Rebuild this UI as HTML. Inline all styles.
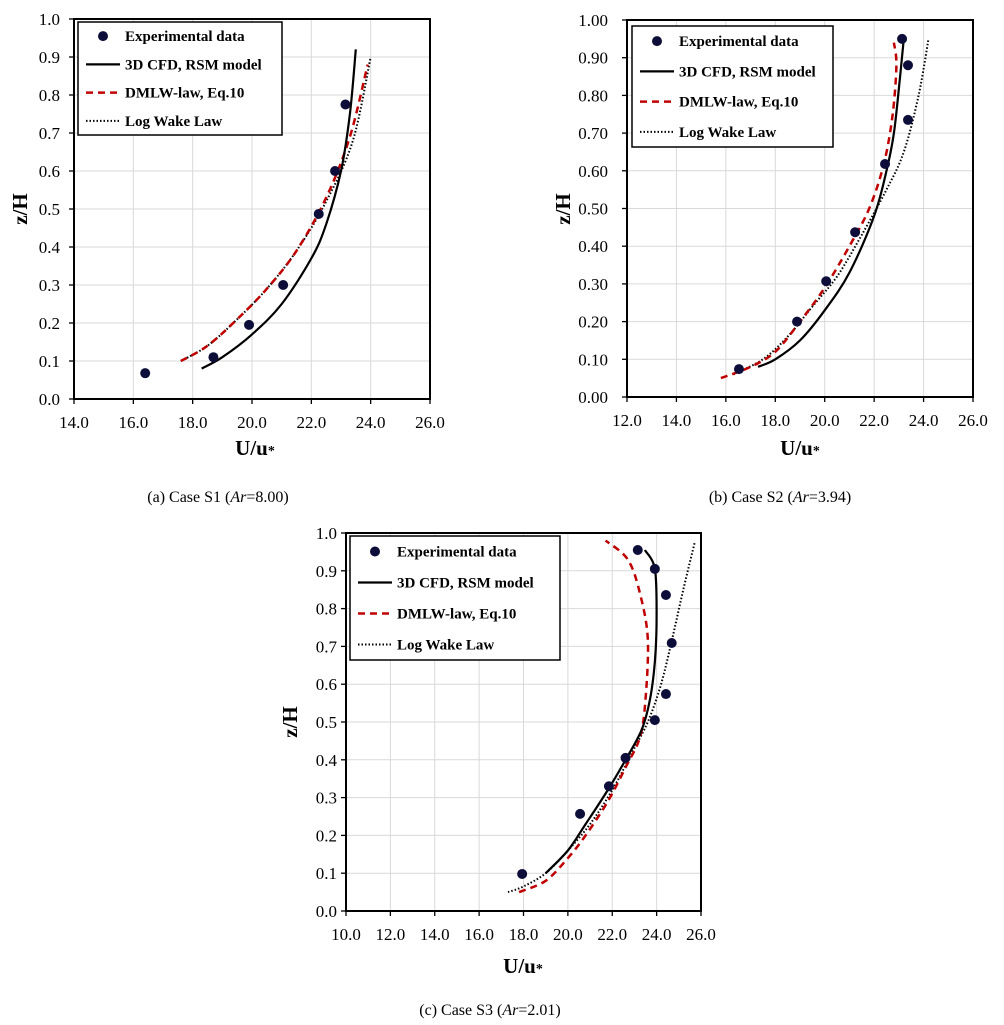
<!DOCTYPE html>
<html><head><meta charset="utf-8"><style>
body{margin:0;background:#fff;}
svg{display:block;font-family:"Liberation Serif",serif;}
</style></head><body>
<svg id="fig" width="1004" height="1025" viewBox="0 0 1004 1025" xmlns="http://www.w3.org/2000/svg"></svg>
<script>
// ---- Chart (a) Case S1 ----
const s1ExpU=[16.4,18.7,19.9,21.05,22.25,22.8,23.15];
const s1ExpZ=[0.068,0.11,0.195,0.30,0.487,0.60,0.775];
const s1CfdU=[18.3,19,20,21,22,22.5,23,23.3,23.5];
const s1CfdZ=[0.08,0.11,0.17,0.25,0.37,0.46,0.60,0.75,0.92];
const s1DmU=[17.6,18.5,19.5,20.5,21.5,22.5,23.3,23.9];
const s1DmZ=[0.10,0.14,0.21,0.29,0.39,0.53,0.69,0.88];
const s1LwU=[17.6,18.5,19.5,20.5,21.5,22.5,23.4,24.0];
const s1LwZ=[0.10,0.14,0.21,0.29,0.39,0.52,0.68,0.90];
const s1XTicks=["14.0","16.0","18.0","20.0","22.0","24.0","26.0"];
const s1YTicks=["0.0","0.1","0.2","0.3","0.4","0.5","0.6","0.7","0.8","0.9","1.0"];
// ---- Chart (b) Case S2 ----
const s2ExpU=[16.53,18.88,20.06,21.23,22.44,23.37,23.37,23.13];
const s2ExpZ=[0.074,0.20,0.307,0.437,0.618,0.735,0.88,0.95];
const s2CfdU=[17.3,18,19,20,21,22,22.5,22.8,23.05,23.2];
const s2CfdZ=[0.08,0.10,0.15,0.23,0.33,0.48,0.60,0.70,0.85,0.95];
const s2DmU=[15.8,17,18,19,20,21,21.8,22.4,22.75,22.9,22.8];
const s2DmZ=[0.05,0.08,0.12,0.20,0.29,0.40,0.50,0.62,0.75,0.88,0.94];
const s2LwU=[16.3,17.5,18.5,19.5,20.5,21.5,22.5,23.2,23.8,24.2];
const s2LwZ=[0.06,0.10,0.16,0.24,0.32,0.43,0.55,0.65,0.80,0.95];
const s2XTicks=["12.0","14.0","16.0","18.0","20.0","22.0","24.0","26.0"];
const s2YTicks=["0.00","0.10","0.20","0.30","0.40","0.50","0.60","0.70","0.80","0.90","1.00"];
// ---- Chart (c) Case S3 ----
const s3ExpU=[17.94,20.55,21.85,22.6,23.92,24.42,24.68,24.42,23.92,23.15];
const s3ExpZ=[0.098,0.257,0.33,0.405,0.505,0.574,0.709,0.836,0.905,0.955];
const s3CfdU=[19,20,20.8,21.8,22.6,23.33,23.7,23.92,24.0,23.92,23.47];
const s3CfdZ=[0.10,0.16,0.23,0.32,0.40,0.48,0.56,0.66,0.78,0.905,0.955];
const s3DmU=[17.8,19,20,20.8,21.8,22.6,23.25,23.5,23.6,23.25,22.7,21.7];
const s3DmZ=[0.05,0.08,0.14,0.20,0.29,0.38,0.46,0.56,0.72,0.84,0.93,0.98];
const s3LwU=[17.3,18,19,20,21,22,22.9,23.6,24.2,24.7,25.2,25.72];
const s3LwZ=[0.05,0.065,0.10,0.16,0.23,0.32,0.42,0.50,0.60,0.72,0.85,0.976];
const s3XTicks=["10.0","12.0","14.0","16.0","18.0","20.0","22.0","24.0","26.0"];
const s3YTicks=["0.0","0.1","0.2","0.3","0.4","0.5","0.6","0.7","0.8","0.9","1.0"];

const NS="http://www.w3.org/2000/svg";
const svg=document.getElementById('fig');
function mk(tag,attrs,parent,text){const e=document.createElementNS(NS,tag);for(const k in attrs)e.setAttribute(k,attrs[k]);if(text!==undefined)e.textContent=text;(parent||svg).appendChild(e);return e;}
function smooth(P){
  let d='M'+P[0][0].toFixed(1)+','+P[0][1].toFixed(1);
  for(let i=0;i<P.length-1;i++){
    const p0=P[Math.max(0,i-1)],p1=P[i],p2=P[i+1],p3=P[Math.min(P.length-1,i+2)];
    const c1=[p1[0]+(p2[0]-p0[0])/6,p1[1]+(p2[1]-p0[1])/6];
    const c2=[p2[0]-(p3[0]-p1[0])/6,p2[1]-(p3[1]-p1[1])/6];
    d+=' C'+c1[0].toFixed(1)+','+c1[1].toFixed(1)+' '+c2[0].toFixed(1)+','+c2[1].toFixed(1)+' '+p2[0].toFixed(1)+','+p2[1].toFixed(1);
  }
  return d;
}

function chart(id,cfg,xt,yt,eu,ez,cu,cz,du,dz,lu,lz){
  const g=mk('g',{});
  
  
  const xmin=parseFloat(xt[0]),xmax=parseFloat(xt[xt.length-1]);
  const X=v=>cfg.L+(v-xmin)/(xmax-xmin)*(cfg.R-cfg.L);
  const Y=v=>cfg.B-v*(cfg.B-cfg.T);
  xt.forEach((t,i)=>{const x=X(parseFloat(t));
    if(i>0&&i<xt.length-1){const l=mk('line',{x1:x,x2:x,y1:cfg.T,y2:cfg.B,stroke:'#d9d9d9','stroke-width':1},g);}
    const tk=mk('line',{x1:x,x2:x,y1:cfg.B,y2:cfg.B+5,stroke:'#000','stroke-width':1.3},g);
    const tx=mk('text',{x:x,y:cfg.B+29,'font-size':17,'text-anchor':'middle'},g,t);
  });
  yt.forEach((t,i)=>{const y=Y(parseFloat(t));
    if(i>0&&i<yt.length-1){const l=mk('line',{x1:cfg.L,x2:cfg.R,y1:y,y2:y,stroke:'#d9d9d9','stroke-width':1},g);}
    const tk=mk('line',{x1:cfg.L-5,x2:cfg.L,y1:y,y2:y,stroke:'#000','stroke-width':1.3},g);
    const tx=mk('text',{x:cfg.L-cfg.yoff,y:y+6,'font-size':17,'text-anchor':'end'},g,t);
  });
  const fr=mk('rect',{x:cfg.L,y:cfg.T,width:cfg.R-cfg.L,height:cfg.B-cfg.T,fill:'none',stroke:'#000','stroke-width':2},g);
  
  const pts=(u,z)=>smooth(u.map((v,i)=>[X(v),Y(z[i])]));
  const lw=mk('path',{d:pts(lu,lz),fill:'none',stroke:'#000','stroke-width':2,'stroke-dasharray':'1.5 2'},g);
  
  const dm=mk('path',{d:pts(du,dz),fill:'none',stroke:'#c00000','stroke-width':2.5,'stroke-dasharray':'7 5'},g);
  
  const cf=mk('path',{d:pts(cu,cz),fill:'none',stroke:'#000','stroke-width':2.2},g);
  
  eu.forEach((v,i)=>{const c=mk('circle',{cx:X(v),cy:Y(ez[i]),r:5,fill:'#0d0d3a'},g);});
  const lg=mk('g',{},g);
  const lx=cfg.lg[0],ly=cfg.lg[1],lwid=cfg.lg[2],lh=cfg.lg[3];
  mk('rect',{x:lx,y:ly,width:lwid,height:lh,fill:'#fff',stroke:'#000','stroke-width':1.5},lg);
  const rowH=lh/4;
  const names=['Experimental data','3D CFD, RSM model','DMLW-law, Eq.10','Log Wake Law'];
  names.forEach((n,i)=>{const cy=ly+rowH*(i+0.5);
    const e=mk('g',{},lg);
    if(i===0)mk('circle',{cx:lx+25,cy:cy,r:5,fill:'#0d0d3a'},e);
    if(i===1)mk('line',{x1:lx+8,x2:lx+42,y1:cy,y2:cy,stroke:'#000','stroke-width':2.2},e);
    if(i===2)mk('line',{x1:lx+8,x2:lx+42,y1:cy,y2:cy,stroke:'#c00000','stroke-width':2.5,'stroke-dasharray':'7 5'},e);
    if(i===3)mk('line',{x1:lx+8,x2:lx+42,y1:cy,y2:cy,stroke:'#000','stroke-width':2,'stroke-dasharray':'1.5 2'},e);
    mk('text',{x:lx+47,y:cy+5,'font-size':15,'font-weight':'bold'},e,n);
  });
  const xtit=mk('text',{x:cfg.xt[0],y:cfg.xt[1],'font-size':21,'font-weight':'bold','text-anchor':'middle'},g);
  
  xtit.innerHTML='U/u<tspan font-size="14">*</tspan>';
  const ytit=mk('text',{x:cfg.yt[0],y:cfg.yt[1],'font-size':21,'font-weight':'bold','text-anchor':'middle',transform:'rotate(-90 '+cfg.yt[0]+' '+cfg.yt[1]+')'},g,'z/H');
  
  const cap=mk('text',{x:cfg.cap[0],y:cfg.cap[1],'font-size':16,'text-anchor':'middle'},g);
  
  cap.innerHTML=cfg.capText;
}
chart('case-s1',{L:74,R:430,T:19,B:399,yoff:14,lg:[78,22,204,113],xt:[255,455],yt:[27,209],cap:[218,502],capText:'(a) Case S1 (<tspan font-style="italic">Ar</tspan>=8.00)'},s1XTicks,s1YTicks,s1ExpU,s1ExpZ,s1CfdU,s1CfdZ,s1DmU,s1DmZ,s1LwU,s1LwZ);
chart('case-s2',{L:627,R:973,T:20,B:397,yoff:19,lg:[632,26,201,121],xt:[800,455],yt:[570,209],cap:[780,502],capText:'(b) Case S2 (<tspan font-style="italic">Ar</tspan>=3.94)'},s2XTicks,s2YTicks,s2ExpU,s2ExpZ,s2CfdU,s2CfdZ,s2DmU,s2DmZ,s2LwU,s2LwZ);
chart('case-s3',{L:346,R:701,T:533,B:911,yoff:9,lg:[350,536,210,124],xt:[523,973],yt:[297,722],cap:[490,1015],capText:'(c) Case S3 (<tspan font-style="italic">Ar</tspan>=2.01)'},s3XTicks,s3YTicks,s3ExpU,s3ExpZ,s3CfdU,s3CfdZ,s3DmU,s3DmZ,s3LwU,s3LwZ);
</script>
</body></html>
